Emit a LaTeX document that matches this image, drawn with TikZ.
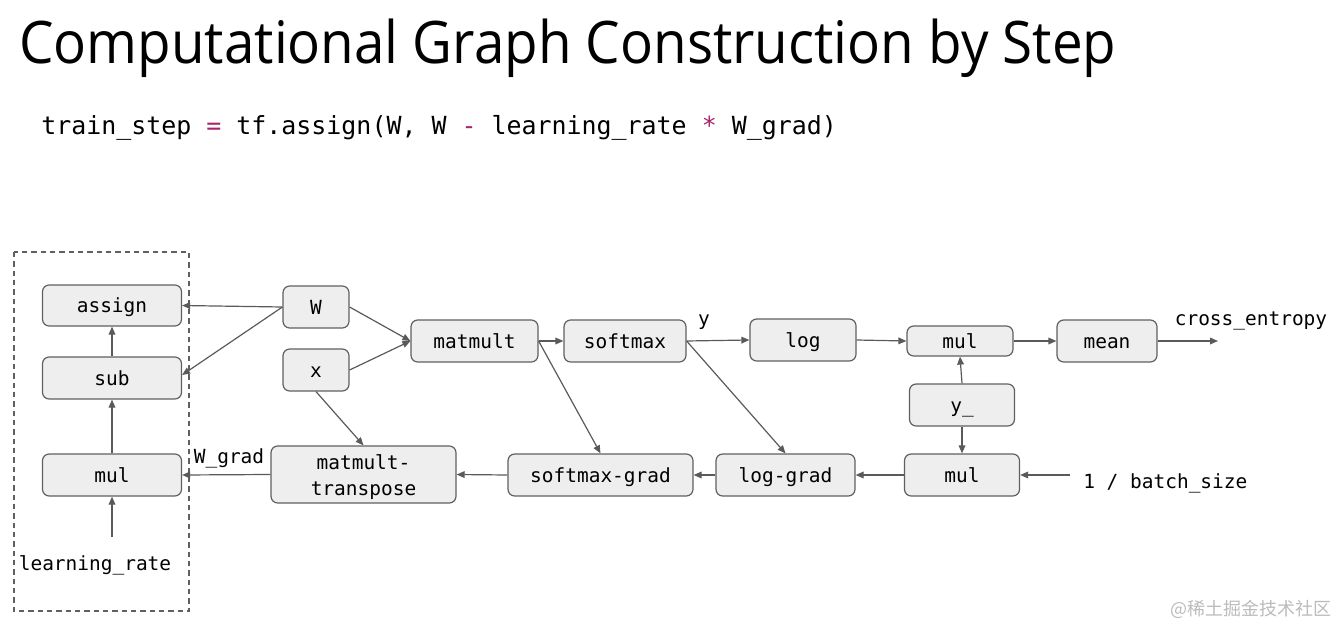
\documentclass[tikz,border=0pt]{standalone}
\usepackage{fontspec}
\setmainfont{Open Sans}
\setmonofont{DejaVu Sans Mono}
\newfontfamily\cjkfont{Noto Sans CJK SC}
\usetikzlibrary{arrows.meta}
\definecolor{boxfill}{HTML}{EEEEEE}
\definecolor{boxline}{HTML}{606060}
\definecolor{arrline}{HTML}{5A5A5A}
\definecolor{opcol}{HTML}{A8246A}
\definecolor{wmcol}{HTML}{BBBBBB}
\begin{document}
\begin{tikzpicture}[x=0.75pt,y=-0.75pt,
  opshape/.style={draw=boxline, fill=boxfill, rounded corners=5pt, line width=0.9pt, inner sep=0pt},
  opbox/.style={opshape, font=\ttfamily\fontsize{14.6}{20}\selectfont, text height=12.5pt, text depth=2pt},
  lbl/.style={inner sep=0pt, font=\ttfamily\fontsize{14.6}{20}\selectfont, text height=12.5pt, text depth=2pt},
  lbltwo/.style={inner sep=0pt, font=\ttfamily\fontsize{14.6}{20}\selectfont, align=center},
  arr/.style={draw=arrline, line width=0.9pt, -{Triangle[length=6pt,width=5pt]}}]
\useasboundingbox (0,0) rectangle (1337,627);
% title and code
\node[anchor=base west, inner sep=0pt, font=\fontsize{44}{50}\selectfont] (title) at (19,64)
  {\scalebox{0.933}[1]{Computational Graph Construction by Step}};
\node[anchor=base west, inner sep=0pt, font=\ttfamily\fontsize{18.7}{22}\selectfont] (code) at (41,135)
  {train\_step \textcolor{opcol}{=} tf.assign(W, W \textcolor{opcol}{-} learning\_rate \textcolor{opcol}{*} W\_grad)};
% dashed group
\draw[draw=boxline, line width=0.8pt, dash pattern=on 4pt off 3pt] (14,252) rectangle (189,611);
% nodes
\node[opbox, minimum width=139*0.75pt, minimum height=41*0.75pt] (assign) at (112,305.5) {assign};
\node[opbox, minimum width=139*0.75pt, minimum height=42*0.75pt] (sub) at (112,378) {sub};
\node[opbox, minimum width=139*0.75pt, minimum height=42*0.75pt] (mulL) at (112,475) {mul};
\node[lbl] (lr) at (95,563) {learning\_rate};
\coordinate (lrs) at (112,537);
\node[opbox, minimum width=66*0.75pt, minimum height=42*0.75pt] (W) at (316,307) {W};
\node[opbox, minimum width=66*0.75pt, minimum height=42*0.75pt] (x) at (316,370) {x};
\node[opbox, minimum width=127*0.75pt, minimum height=42*0.75pt] (matmult) at (474.5,341) {matmult};
\node[opbox, minimum width=122*0.75pt, minimum height=42*0.75pt] (softmax) at (625,341) {softmax};
\node[lbl] (ylbl) at (704,318) {y};
\node[opbox, minimum width=106*0.75pt, minimum height=42*0.75pt] (log) at (803,340) {log};
\node[opbox, minimum width=106*0.75pt, minimum height=30*0.75pt] (mulT) at (960,341) {mul};
\node[opbox, minimum width=100*0.75pt, minimum height=42*0.75pt] (mean) at (1107,341) {mean};
\node[lbl] (ce) at (1251,318) {cross\_entropy};
\coordinate (ceend) at (1218,341);
\node[opbox, minimum width=105*0.75pt, minimum height=42*0.75pt] (yy) at (962,405) {y\_};
\node[opbox, minimum width=115*0.75pt, minimum height=42*0.75pt] (mulB) at (962,475) {mul};
\node[lbl, anchor=west] (bs) at (1083,481) {1 / batch\_size};
\coordinate (bsstart) at (1070,475);
\node[opbox, minimum width=139*0.75pt, minimum height=42*0.75pt] (loggrad) at (785.5,475) {log-grad};
\node[opbox, minimum width=185*0.75pt, minimum height=42*0.75pt] (smgrad) at (600.5,475) {softmax-grad};
\node[opshape, minimum width=185*0.75pt, minimum height=57*0.75pt] (mmt) at (363.5,474.5) {};
\node[lbltwo] (mmtlbl) at (363.5,477) {matmult-\\transpose};
\node[lbl] (wg) at (229,456) {W\_grad};
% connectors
\draw[arr] (W.west) -- (assign.east);
\draw[arr] (W.west) -- ([yshift=2.25pt]sub.east);
\draw[arr] (W.east) -- (matmult.west);
\draw[arr] (x.east) -- (matmult.west);
\draw[arr] (x.south) -- (mmt.north);
\draw[arr] (matmult.east) -- (softmax.west);
\draw[arr] (matmult.east) -- (smgrad.north);
\draw[arr] (softmax.east) -- (log.west);
\draw[arr] (softmax.east) -- (loggrad.north);
\draw[arr] (log.east) -- (mulT.west);
\draw[arr] (mulT.east) -- (mean.west);
\draw[arr] (mean.east) -- (ceend);
\draw[arr] (yy.north) -- (mulT.south);
\draw[arr] (yy.south) -- (mulB.north);
\draw[arr] (bsstart) -- (mulB.east);
\draw[arr] (mulB.west) -- (loggrad.east);
\draw[arr] (loggrad.west) -- (smgrad.east);
\draw[arr] (smgrad.west) -- (mmt.east);
\draw[arr] (mmt.west) -- (mulL.east);
\draw[arr] (lrs) -- (mulL.south);
\draw[arr] (mulL.north) -- (sub.south);
\draw[arr] (sub.north) -- (assign.south);
% watermark
\node[inner sep=0pt, font=\cjkfont\fontsize{13.5}{15}\selectfont, text=wmcol] (wm) at (1251,609) {@稀土掘金技术社区};
\end{tikzpicture}
\end{document}
